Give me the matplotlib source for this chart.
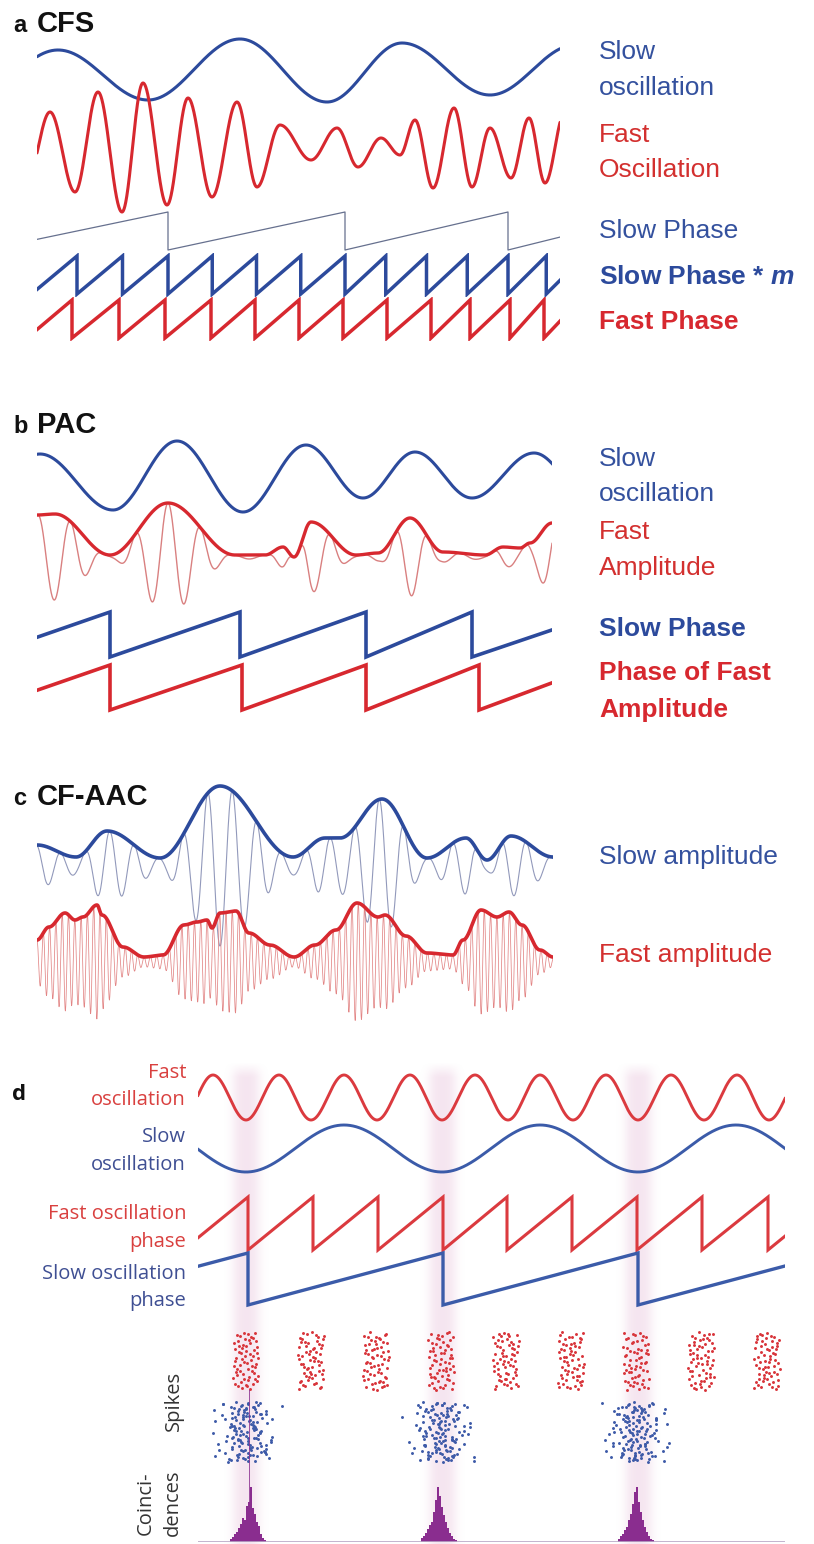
import numpy as np
import matplotlib
matplotlib.use("Agg")
import matplotlib.pyplot as plt

plt.rcParams['mathtext.fontset'] = 'custom'
plt.rcParams['mathtext.it'] = 'Liberation Sans:italic:bold'
plt.rcParams['mathtext.rm'] = 'Liberation Sans:bold'

# ---------------- data (time in trace units, values relative to trace centre) -------------
# panel a : CFS
A_SLOW_T = [-67, 21, 111, 203, 290, 365, 453, 538]
A_SLOW_V = [-30, 20, -30, 31, -32, 27, -25, 25]
A_FAST_T = [-10, 13, 38, 61, 85, 106, 130, 151, 175, 200, 220, 243, 274, 300, 321, 344,
            363, 378, 396, 417, 435, 453, 474, 492, 508, 528]
A_FAST_V = [-30, 38, -42, 58, -62, 67, -55, 52, -47, 48, -37, 25, -10, 22, -17, 12,
            -5, 30, -38, 42, -37, 22, -28, 32, -33, 38]
A_SLOW_RESETS = [-51, 131, 308, 471, 624]
A_M = 4
A_FAST_RESETS = [-10, 35, 82, 128, 174, 218, 262, 306, 350, 394, 433, 473, 507, 543]

# panel b : PAC
B_SLOW_T = [-62, 3, 76, 140, 206, 269, 326, 378, 435, 497, 553]
B_SLOW_V = [-29, 22, -34, 35, -36, 31, -22, 24, -22, 23, -22]
B_ENV_T = [0, 18, 73, 131, 198, 228, 246, 257, 274, 319, 341, 373, 406, 448, 466, 483, 493, 515]
B_ENV_V = [42, 43, 2, 54, 2, 2, 10, 0, 35, 2, 4, 39, 5, 2, 10, 9, 14, 34]
B_CARRIER = (32.5, 131)          # period, peak time
B_SLOW_RESETS = [-57, 73, 203, 329, 435, 568]
B_AMP_RESETS = [-57, 73, 205, 329, 442, 563]

# panel c : CF-AAC
C_SLOW_ENV_T = [0, 39, 70, 123, 183, 256, 288, 303, 345, 390, 429, 450, 474, 516]
C_SLOW_ENV_V = [21, 9, 35, 8, 80, 9, 28, 28, 67, 8, 28, 6, 30, 9]
C_SLOW_CARRIER = (24.5, 183)
C_FAST_ENV_T = [0, 12, 28, 38, 46, 60, 65, 86, 107, 126, 147, 160, 170, 175, 183, 199, 212,
                233, 257, 278, 299, 320, 341, 348, 369, 390, 416, 426, 444, 460, 472, 485, 503, 516]
C_FAST_ENV_V = [22, 35, 49, 42, 45, 57, 47, 15, 5, 7, 37, 40, 42, 34, 49, 51, 29,
                17, 5, 17, 32, 59, 45, 47, 26, 9, 7, 22, 52, 45, 50, 37, 12, 5]
C_FAST_CARRIER = (6.3, 0)

# panel d
D_FAST_T = [-17, 15, 48, 81, 113, 146, 179, 212, 244, 277, 310, 342, 375, 408, 440, 473, 506, 539, 571, 604]
D_FAST_V = [-22.5, 22.5] * 10
D_SLOW_T = [-148, -50, 48, 146, 244, 342, 440, 538, 636]
D_SLOW_V = [-23.5, 23.5, -23.5, 23.5, -23.5, 23.5, -23.5, 23.5, -23.5]
D_FAST_RESETS = [-15, 50, 115, 180, 245, 309, 374, 439, 504, 570, 635]
D_SLOW_RESETS = [-146, 50, 245, 440, 636]
D_BANDS = [48, 244, 440]
D_RED_SPIKE_CENTERS = [48, 113, 178, 243, 308, 373, 438, 503, 569]
D_BLUE_SPIKE_CENTERS = [48, 243, 438]
D_HIST_CENTERS = [50, 241, 438]
D_HIST_OFFSETS = list(range(-17, 18, 2))
D_HIST_HEIGHTS = [
    [3, 5, 8, 10, 14, 18, 24, 22, 36, 40, 55, 34, 28, 20, 16, 8, 4, 2],
    [4, 6, 9, 13, 17, 20, 30, 42, 55, 46, 35, 27, 20, 14, 9, 6, 3, 2],
    [3, 6, 8, 12, 15, 22, 28, 38, 50, 55, 40, 30, 22, 15, 10, 6, 3, 2],
]
D_HIST_SPIKE = (1, 152)   # extra narrow bin in the first band: offset, height

# ---------------- styles ----------------
W, H = 814, 1544
BLUE = '#2c4a9c'
RED = '#d7282f'
BLUE_TXT = '#34519e'
RED_TXT = '#d3302f'
D_RED = '#db3a3f'
D_BLUE = '#3b5ba9'
D_RED_TXT = '#d9403f'
D_BLUE_TXT = '#3f4f93'
PURPLE = '#8a2d8f'

fig = plt.figure(figsize=(W / 100, H / 100), dpi=100)


def row_ax(x0, span, yc, up, down=None):
    down = up if down is None else down
    ax = fig.add_axes([x0 / W, 1 - (yc + down) / H, span / W, (up + down) / H])
    ax.set_xlim(0, span)
    ax.set_ylim(-down, up)
    ax.axis('off')
    return ax


def smooth_through(tk, vk, t):
    tk = np.asarray(tk, float)
    vk = np.asarray(vk, float)
    i = np.clip(np.searchsorted(tk, t, side='right') - 1, 0, len(tk) - 2)
    s = np.clip((t - tk[i]) / (tk[i + 1] - tk[i]), 0, 1)
    return vk[i] + (vk[i + 1] - vk[i]) * (1 - np.cos(np.pi * s)) / 2


def sawtooth(resets, t0, t1, h):
    r = np.asarray(resets, float)

    def frac(t):
        k = np.searchsorted(r, t, side='right') - 1
        return (t - r[k]) / (r[k + 1] - r[k])
    ts = [t0]
    vs = [-h + 2 * h * frac(t0)]
    for rr in r:
        if t0 < rr < t1:
            ts += [rr, rr]
            vs += [h, -h]
    ts.append(t1)
    vs.append(-h + 2 * h * frac(t1))
    return ts, vs


def multiply_phase(resets, m):
    out = []
    for a, b in zip(resets[:-1], resets[1:]):
        out += [a + j * (b - a) / m for j in range(m)]
    out.append(resets[-1])
    return out


def ftext(x, y, s, **kw):
    fig.text(x / W, 1 - y / H, s, **kw)


LS = 'Liberation Sans'
OS = 'Open Sans'

# ================= panel a =================
X0, SPAN = 37, 523
t = np.linspace(0, SPAN, 3000)
ax = row_ax(X0, SPAN, 70, 45)
ax.plot(t, smooth_through(A_SLOW_T, A_SLOW_V, t), color=BLUE, lw=2.2, solid_capstyle='round')
ax = row_ax(X0, SPAN, 150, 75)
ax.plot(t, smooth_through(A_FAST_T, A_FAST_V, t), color=RED, lw=2.2, solid_capstyle='round')
ax = row_ax(X0, SPAN, 231, 22)
ax.plot(*sawtooth(A_SLOW_RESETS, 0, SPAN, 19), color='#66708e', lw=0.9)
ax = row_ax(X0, SPAN, 275, 22)
ax.plot(*sawtooth(multiply_phase(A_SLOW_RESETS, A_M), 0, SPAN, 19), color=BLUE, lw=2.5,
        solid_joinstyle='miter')
ax = row_ax(X0, SPAN, 319, 22)
ax.plot(*sawtooth(A_FAST_RESETS, 0, SPAN, 19), color=RED, lw=2.5, solid_joinstyle='miter')

# ================= panel b =================
SPAN_B = 515
t = np.linspace(0, SPAN_B, 3000)
ax = row_ax(X0, SPAN_B, 476, 45)
ax.plot(t, smooth_through(B_SLOW_T, B_SLOW_V, t), color=BLUE, lw=2.2)
ax = row_ax(X0, SPAN_B, 557, 60)
env = smooth_through(B_ENV_T, B_ENV_V, t)
P, tp = B_CARRIER
ax.plot(t, env * np.cos(2 * np.pi * (t - tp) / P), color='#d98080', lw=1.0)
ax.plot(t, env, color=RED, lw=2.4)
ax = row_ax(X0, SPAN_B, 634.5, 26)
ax.plot(*sawtooth(B_SLOW_RESETS, 0, SPAN_B, 22.5), color=BLUE, lw=2.6, solid_joinstyle='miter')
ax = row_ax(X0, SPAN_B, 687.5, 26)
ax.plot(*sawtooth(B_AMP_RESETS, 0, SPAN_B, 22.5), color=RED, lw=2.6, solid_joinstyle='miter')

# ================= panel c =================
SPAN_C = 516
t = np.linspace(0, SPAN_C, 6000)
ax = row_ax(X0, SPAN_C, 866, 90)
env = smooth_through(C_SLOW_ENV_T, C_SLOW_ENV_V, t)
P, tp = C_SLOW_CARRIER
ax.plot(t, -env * np.cos(2 * np.pi * (t - tp) / P), color='#9299bb', lw=0.8)
ax.plot(t, env, color=BLUE, lw=2.6)
ax = row_ax(X0, SPAN_C, 962, 70)
env = smooth_through(C_FAST_ENV_T, C_FAST_ENV_V, t)
P, tp = C_FAST_CARRIER
ax.plot(t, env * np.cos(2 * np.pi * (t - tp) / P), color='#e28585', lw=0.55)
ax.plot(t, env, color=RED, lw=2.6)

# ================= panel d =================
XD, SPAN_D = 198, 587
# highlight bands
bax = fig.add_axes([XD / W, 0, SPAN_D / W, 1 - 1062 / H])
bax.set_xlim(0, SPAN_D)
bax.set_ylim(0, 1544 - 1062)
bax.axis('off')
xs = np.linspace(0, SPAN_D, SPAN_D * 2)
ys = np.linspace(0, 1544 - 1062, 300)
alpha_x = np.zeros_like(xs)
for c in D_BANDS:
    alpha_x += np.exp(-(np.abs(xs - c) / 14.0) ** 3)
alpha_y = np.clip((ys[-1] - ys) / 14.0, 0, 1)[:, None]
img = np.zeros((len(ys), len(xs), 4))
img[..., 0] = 0.86
img[..., 1] = 0.62
img[..., 2] = 0.78
img[..., 3] = 0.26 * alpha_x[None, :] * alpha_y
bax.imshow(img, extent=(0, SPAN_D, 0, 1544 - 1062), origin='lower', aspect='auto',
           interpolation='bilinear', zorder=0)

t = np.linspace(0, SPAN_D, 3000)
ax = row_ax(XD, SPAN_D, 1097.5, 30)
ax.plot(t, smooth_through(D_FAST_T, D_FAST_V, t), color=D_RED, lw=2.1)
ax = row_ax(XD, SPAN_D, 1148.5, 30)
ax.plot(t, smooth_through(D_SLOW_T, D_SLOW_V, t), color=D_BLUE, lw=2.1)
ax = row_ax(XD, SPAN_D, 1223.5, 30)
ax.plot(*sawtooth(D_FAST_RESETS, 0, SPAN_D, 26.5), color=D_RED, lw=2.2, solid_joinstyle='miter')
ax = row_ax(XD, SPAN_D, 1279, 30)
ax.plot(*sawtooth(D_SLOW_RESETS, 0, SPAN_D, 26), color=D_BLUE, lw=2.4, solid_joinstyle='miter')


# spikes (deterministic low-discrepancy scatter)
def halton(i, b):
    f, r = 1.0, 0.0
    while i > 0:
        f /= b
        r += f * (i % b)
        i //= b
    return r


sax = fig.add_axes([XD / W, 1 - 1470 / H, SPAN_D / W, 145 / H])
sax.set_xlim(0, SPAN_D)
sax.set_ylim(145, 0)
sax.axis('off')
rx, ry = [], []
for k, c in enumerate(D_RED_SPIKE_CENTERS):
    for j in range(62):
        i = 1 + k * 62 + j
        rx.append(c + (halton(i, 2) - 0.5) * 26)
        ry.append(7 + halton(i, 3) * 58)
rx.append(-2)
ry.append(23)
sax.scatter(rx, ry, s=4.5, color='#d8343a', linewidths=0)
bxs, bys = [], []
for k, c in enumerate(D_BLUE_SPIKE_CENTERS):
    for j in range(140):
        i = 1 + k * 140 + j
        u1 = max(halton(i, 2), 0.02)
        u2 = halton(i, 3)
        u3 = halton(i, 5)
        dx = 14 * np.sqrt(-2 * np.log(u1)) * np.cos(2 * np.pi * u2)
        bxs.append(c + np.clip(dx, -44, 44))
        bys.append(77 + u3 * 60)
sax.scatter(bxs, bys, s=4.5, color='#3d5aa8', linewidths=0)

# coincidences histogram
hax = fig.add_axes([XD / W, 1 - 1542 / H, SPAN_D / W, 160 / H])
hax.set_xlim(0, SPAN_D)
hax.set_ylim(0, 160)
hax.axis('off')
for c, hts in zip(D_HIST_CENTERS, D_HIST_HEIGHTS):
    hax.bar([c + o for o in D_HIST_OFFSETS], hts, width=2.0, color=PURPLE, linewidth=0)
hax.bar([D_HIST_CENTERS[0] + D_HIST_SPIKE[0]], [D_HIST_SPIKE[1]], width=1.0, color=PURPLE,
        alpha=0.8, linewidth=0)
hax.axhline(0, color='#b9a7c6', lw=1.2)


# ================= texts =================
def lab(y, s, color, bold=False, x=599, size=19, family=LS, ha='left'):
    ftext(x, y, s, color=color, fontsize=size, family=family, ha=ha, va='baseline',
          fontweight='bold' if bold else 'normal')


# panel titles
for y, letter, word in [(32, 'a', 'CFS'), (433, 'b', 'PAC'), (805, 'c', 'CF-AAC')]:
    ftext(13, y, letter, fontsize=17, family=LS, fontweight='bold', va='baseline', color='#111111')
    ftext(37, y, word, fontsize=21, family=LS, fontweight='bold', va='baseline', color='#111111')
ftext(12, 1100, 'd', fontsize=16, family=OS, fontweight='bold', va='baseline', color='#111111')

# panel a labels
lab(59, 'Slow', BLUE_TXT)
lab(95, 'oscillation', BLUE_TXT)
lab(142, 'Fast', RED_TXT)
lab(177, 'Oscillation', RED_TXT)
lab(238, 'Slow Phase', BLUE_TXT)
lab(284, 'Slow Phase * $m$', BLUE, bold=True)
lab(329, 'Fast Phase', RED, bold=True)
# panel b labels
lab(466, 'Slow', BLUE_TXT)
lab(501, 'oscillation', BLUE_TXT)
lab(539, 'Fast', RED_TXT)
lab(575, 'Amplitude', RED_TXT)
lab(636, 'Slow Phase', BLUE, bold=True)
lab(680, 'Phase of Fast', RED, bold=True)
lab(717, 'Amplitude', RED, bold=True)
# panel c labels
lab(864, 'Slow amplitude', BLUE_TXT)
lab(962, 'Fast amplitude', RED_TXT)

# panel d labels
for y, s, col in [(1078, 'Fast', D_RED_TXT), (1105, 'oscillation', D_RED_TXT),
                  (1142, 'Slow', D_BLUE_TXT), (1170, 'oscillation', D_BLUE_TXT),
                  (1219, 'Fast oscillation', D_RED_TXT), (1247, 'phase', D_RED_TXT),
                  (1279, 'Slow oscillation', D_BLUE_TXT), (1306, 'phase', D_BLUE_TXT)]:
    lab(y, s, col, x=186, size=14.5, family=OS, ha='right')

ftext(174, 1401, 'Spikes', rotation=90, fontsize=14.5, family=OS, color='#333333',
      ha='center', va='center')
ftext(146, 1503, 'Coinci-', rotation=90, fontsize=14.5, family=OS, color='#333333',
      ha='center', va='center')
ftext(173, 1503, 'dences', rotation=90, fontsize=14.5, family=OS, color='#333333',
      ha='center', va='center')

fig.savefig('out.png', dpi=100, facecolor='white')
